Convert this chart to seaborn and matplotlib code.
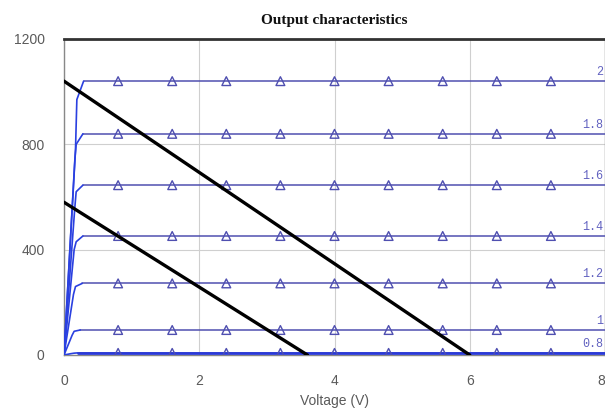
import matplotlib
matplotlib.use("Agg")
import matplotlib.pyplot as plt
import seaborn as sns
import pandas as pd

# Gate-drive levels and their saturation currents
gate_labels = ["2", "1.8", "1.6", "1.4", "1.2", "1", "0.8"]
sat_current = [1040, 840, 645, 452, 272, 95, 8]

# Rising (ohmic) part of each curve: voltages and currents up to the knee
rise_v = [
    [0, 0.17, 0.19, 0.29],
    [0, 0.16, 0.18, 0.28],
    [0, 0.16, 0.18, 0.28],
    [0, 0.15, 0.18, 0.28],
    [0, 0.14, 0.17, 0.27],
    [0, 0.12, 0.15, 0.24],
    [0, 0.10, 0.15, 0.20],
]
rise_i = [
    [0, 780, 970, 1040],
    [0, 740, 800, 840],
    [0, 560, 620, 645],
    [0, 400, 430, 452],
    [0, 230, 260, 272],
    [0, 75, 90, 95],
    [0, 5, 7, 8],
]
v_end = 8.0

# Triangle marker positions along every curve
marker_v = [0.8, 1.6, 2.4, 3.2, 4.0, 4.8, 5.6, 6.4, 7.2]

# Load lines: (voltage, current) endpoints
load_a_v = [0, 6.0]
load_a_i = [1040, 0]
load_b_v = [0, 3.6]
load_b_i = [580, 0]

x_ticks = [0, 2, 4, 6, 8]
y_ticks = [0, 400, 800, 1200]

sns.set_theme(style="white")
plt.rcParams["font.family"] = ["Liberation Sans", "DejaVu Sans"]

fig = plt.figure(figsize=(6.05, 4.09), dpi=100)
ax = fig.add_axes([64 / 605, 1 - 355 / 409, 541 / 605, 316 / 409])

curve_col = "#4f4fb0"
rise_col = "#2a40e0"

# Build curve tables
flat_rows, rise_rows, mark_rows = [], [], []
for lab, isat, rv, ri in zip(gate_labels, sat_current, rise_v, rise_i):
    flat_rows.append({"gate": lab, "V": rv[-1], "I": isat})
    flat_rows.append({"gate": lab, "V": v_end, "I": isat})
    for v, i in zip(rv, ri):
        rise_rows.append({"gate": lab, "V": v, "I": i})
    for v in marker_v:
        mark_rows.append({"gate": lab, "V": v, "I": isat})
flat_df = pd.DataFrame(flat_rows)
rise_df = pd.DataFrame(rise_rows)
mark_df = pd.DataFrame(mark_rows)

pal = {g: curve_col for g in gate_labels}
pal_rise = {g: rise_col for g in gate_labels}

sns.lineplot(data=flat_df, x="V", y="I", hue="gate", palette=pal,
             linewidth=1.1, legend=False, ax=ax, sort=False, zorder=3)
sns.lineplot(data=rise_df, x="V", y="I", hue="gate", palette=pal_rise,
             linewidth=1.2, legend=False, ax=ax, sort=False, zorder=3)
# bottom curve is drawn heavier in bright blue
sns.lineplot(x=[rise_v[-1][-1], v_end], y=[sat_current[-1]] * 2, color="#2a3ad8",
             linewidth=2.0, ax=ax, zorder=4)
sns.scatterplot(data=mark_df, x="V", y="I", marker="^", s=40,
                facecolor="none", edgecolor=curve_col, linewidth=1.0,
                legend=False, ax=ax, zorder=5)

# Load lines
sns.lineplot(x=load_a_v, y=load_a_i, color="black", linewidth=2.4, ax=ax, zorder=6)
sns.lineplot(x=load_b_v, y=load_b_i, color="black", linewidth=2.4, ax=ax, zorder=6)

# Curve labels at the right end
for lab, isat in zip(gate_labels, sat_current):
    ax.text(v_end - 0.03, isat + 12, lab, ha="right", va="bottom",
            family=["Liberation Mono", "DejaVu Sans Mono"], fontsize=8.5,
            color="#6262c0", zorder=7, clip_on=False)

ax.set_xlim(0, 8)
ax.set_ylim(0, 1200)
ax.set_xticks(x_ticks)
ax.set_yticks(y_ticks)
ax.set_xticklabels([str(t) for t in x_ticks])
ax.set_yticklabels([str(t) for t in y_ticks])
ax.tick_params(axis="both", length=0, labelsize=10, colors="#5a5a5a")
ax.tick_params(axis="x", pad=14)
ax.tick_params(axis="y", pad=14)
# last x label sits at the figure edge; anchor it by its right side
ax.get_xticklabels()[-1].set_horizontalalignment("right")

ax.grid(True, color="#cfcfcf", linewidth=0.8)
ax.set_axisbelow(True)

for side in ["left", "bottom", "right"]:
    ax.spines[side].set_color("#888888")
    ax.spines[side].set_linewidth(1.0)
ax.spines["top"].set_color("#333333")
ax.spines["top"].set_linewidth(2.0)

ax.set_xlabel("Voltage (V)", fontsize=10, color="#5a5a5a", labelpad=4)
ax.set_ylabel("")
ax.set_title("Output characteristics", fontsize=11, fontweight="bold",
             family=["Liberation Serif", "DejaVu Serif"], color="#111111", pad=11)

fig.savefig("out.png", dpi=100)
